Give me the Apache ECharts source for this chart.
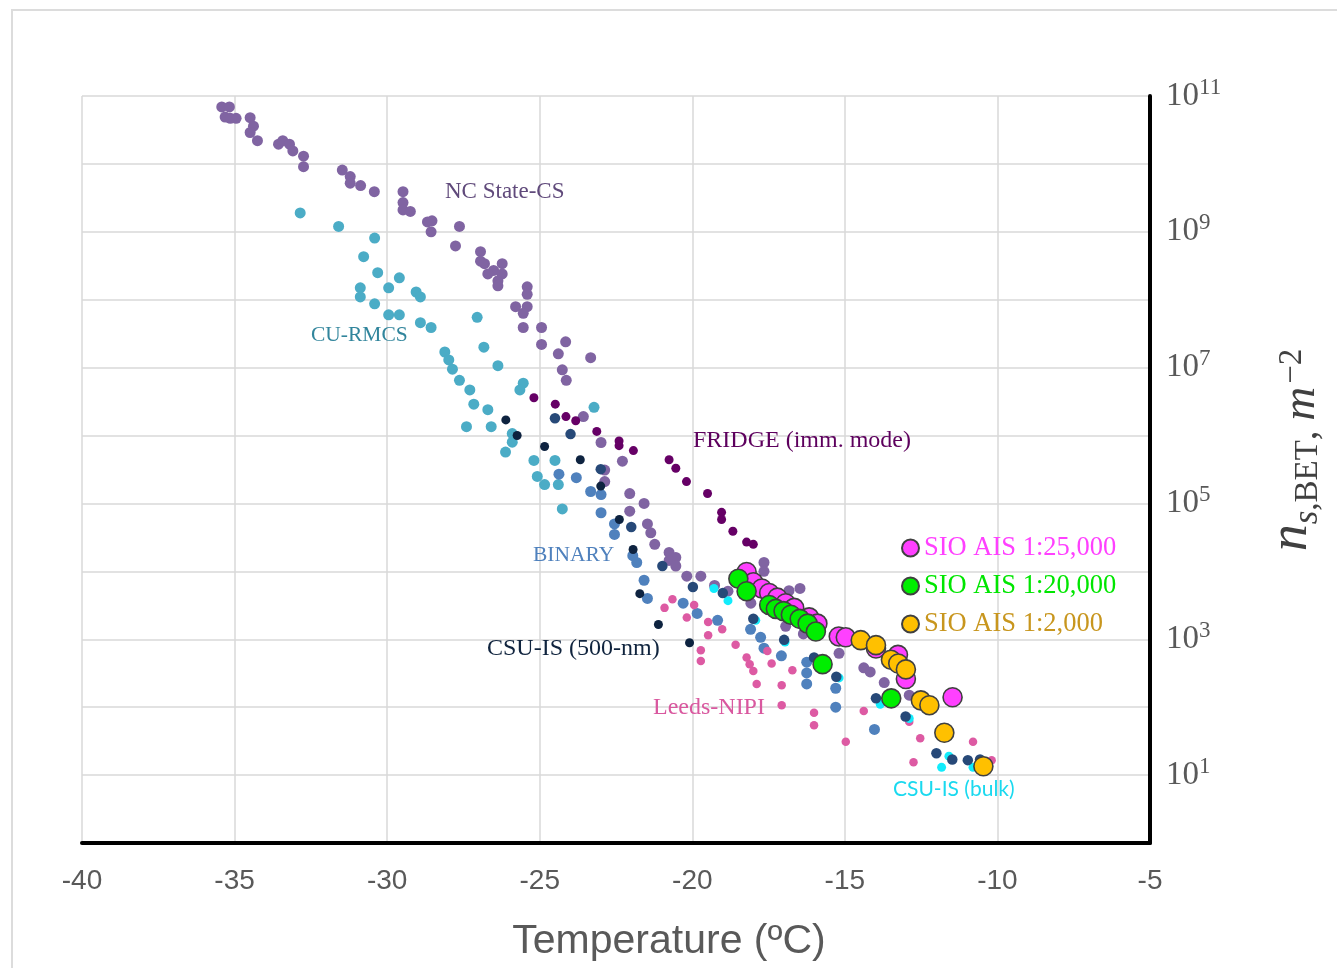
<!DOCTYPE html>
<html>
<head>
<meta charset="utf-8">
<script src="https://cdn.jsdelivr.net/npm/echarts@6/dist/echarts.min.js"></script>
<style>
  html, body { margin: 0; padding: 0; background: #fff; }
  #chart { width: 1337px; height: 968px; }
</style>
</head>
<body>
<div id="chart"></div>
<script>
// 数据：[温度 °C, ns,BET m^-2]
var ncStateCS = [
  [-35.42, 6.9e10], [-35.17, 6.9e10], [-35.31, 4.9e10], [-35.14, 4.7e10], [-34.95, 4.7e10], [-34.49, 4.8e10],
  [-34.38, 3.6e10], [-34.49, 2.9e10], [-34.25, 2.2e10], [-33.56, 1.95e10], [-33.42, 2.2e10], [-33.20, 1.95e10],
  [-33.09, 1.55e10], [-32.74, 1.3e10], [-32.74, 9.1e9], [-31.47, 8.1e9], [-31.21, 6.5e9], [-31.21, 5.2e9],
  [-30.87, 4.8e9], [-30.42, 3.9e9], [-29.48, 3.9e9], [-29.48, 2.7e9], [-29.48, 2.1e9], [-29.24, 2.0e9],
  [-28.68, 1.4e9], [-28.53, 1.45e9], [-28.56, 1.0e9], [-27.63, 1.2e9], [-27.76, 6.2e8], [-26.94, 5.1e8],
  [-26.94, 3.7e8], [-26.81, 3.4e8], [-26.23, 3.4e8], [-26.51, 2.7e8], [-26.70, 2.4e8], [-26.23, 2.4e8],
  [-26.37, 1.9e8], [-26.37, 1.6e8], [-25.41, 1.55e8], [-25.41, 1.2e8], [-25.79, 7.9e7], [-25.41, 7.9e7],
  [-25.54, 6.3e7], [-25.54, 3.9e7], [-24.94, 3.9e7], [-24.94, 2.2e7], [-24.39, 1.6e7], [-24.15, 2.4e7],
  [-24.26, 9.3e6], [-24.13, 6.5e6], [-23.33, 1.4e7], [-23.57, 1.9e6], [-22.99, 7.9e5], [-22.29, 4.2e5],
  [-22.87, 3.1e5], [-22.87, 2.1e5], [-22.05, 1.4e5], [-21.58, 1.0e5], [-22.05, 7.7e4], [-21.47, 5.0e4],
  [-21.36, 3.7e4], [-21.23, 2.5e4], [-20.76, 1.9e4], [-20.54, 1.6e4], [-20.76, 1.45e4], [-20.54, 1.2e4],
  [-20.18, 8.5e3], [-19.72, 8.5e3], [-19.27, 6.2e3], [-18.83, 5.1e3], [-18.08, 3.4e3], [-17.65, 1.35e4],
  [-17.65, 1.0e4], [-16.83, 5.2e3], [-16.47, 5.6e3], [-16.94, 1.55e3], [-16.36, 1.2e3], [-15.19, 6.2e2],
  [-14.38, 3.8e2], [-14.17, 3.3e2], [-13.71, 2.3e2], [-12.89, 1.5e2]
];
var cuRMCS = [
  [-32.85, 1.9e9], [-31.59, 1.2e9], [-30.41, 8.1e8], [-30.77, 4.3e8], [-30.31, 2.5e8], [-30.88, 1.5e8],
  [-30.88, 1.1e8], [-30.41, 8.7e7], [-29.95, 1.5e8], [-29.60, 2.1e8], [-29.05, 1.3e8], [-28.91, 1.1e8],
  [-29.95, 6.0e7], [-29.60, 6.0e7], [-28.91, 4.6e7], [-28.56, 3.9e7], [-27.05, 5.5e7], [-26.83, 2.0e7],
  [-26.37, 1.07e7], [-28.11, 1.7e7], [-27.98, 1.3e7], [-27.86, 9.5e6], [-27.63, 6.5e6], [-27.29, 4.7e6],
  [-27.16, 2.9e6], [-26.70, 2.4e6], [-27.40, 1.35e6], [-26.59, 1.35e6], [-25.54, 5.9e6], [-25.65, 4.7e6],
  [-23.22, 2.6e6], [-25.90, 1.07e6], [-25.90, 8.0e5], [-26.12, 5.7e5], [-25.19, 4.3e5], [-24.50, 4.3e5],
  [-25.08, 2.5e5], [-24.84, 1.9e5], [-24.39, 1.9e5], [-24.26, 8.3e4]
];
var binary = [
  [-24.37, 2.7e5], [-23.80, 2.4e5], [-23.33, 1.5e5], [-22.99, 1.35e5], [-22.99, 7.3e4], [-22.55, 5.0e4],
  [-22.55, 3.5e4], [-21.95, 1.7e4], [-21.82, 1.35e4], [-21.58, 7.4e3], [-21.47, 4.0e3], [-20.30, 3.4e3],
  [-19.84, 2.4e3], [-19.17, 1.9e3], [-18.09, 1.4e3], [-17.76, 1.07e3], [-17.65, 7.4e2], [-17.08, 5.7e2],
  [-16.25, 4.6e2], [-16.25, 3.2e2], [-16.25, 2.2e2], [-15.30, 1.9e2], [-15.30, 1.0e2], [-14.03, 4.7e1]
];
var fridge = [
  [-25.19, 3.6e6], [-24.49, 2.9e6], [-24.14, 1.9e6], [-23.82, 1.65e6], [-23.13, 1.15e6], [-22.40, 8.3e5],
  [-22.40, 7.1e5], [-21.93, 6.0e5], [-20.76, 4.4e5], [-20.54, 3.3e5], [-20.19, 2.1e5], [-19.50, 1.4e5],
  [-19.04, 7.4e4], [-19.04, 5.8e4], [-18.67, 3.9e4], [-18.22, 2.7e4], [-18.00, 2.5e4]
];
var csu500nm = [
  [-26.11, 1.7e6], [-25.74, 1.0e6], [-24.84, 6.9e5], [-23.67, 4.4e5], [-23.00, 1.8e5], [-22.39, 5.8e4],
  [-21.94, 2.1e4], [-21.72, 4.7e3], [-21.11, 1.65e3], [-20.09, 8.9e2]
];
var csuNavy = [
  [-24.50, 1.8e6], [-23.99, 1.05e6], [-23.00, 3.2e5], [-22.00, 4.5e4], [-20.98, 1.2e4], [-19.98, 5.9e3],
  [-19.00, 4.8e3], [-18.00, 2.0e3], [-16.99, 9.8e2], [-16.01, 5.4e2], [-15.28, 2.8e2], [-13.98, 1.35e2],
  [-13.01, 7.3e1], [-12.00, 2.1e1], [-11.48, 1.7e1], [-10.97, 1.66e1], [-10.57, 1.7e1]
];
var csuBulk = [
  [-19.29, 5.6e3], [-18.83, 3.7e3], [-17.92, 1.9e3], [-16.96, 9.1e2], [-15.19, 2.7e2], [-13.84, 1.1e2],
  [-12.89, 6.8e1], [-11.59, 1.9e1], [-11.83, 1.3e1], [-10.80, 1.3e1]
];
var leedsNIPI = [
  [-20.65, 3.9e3], [-20.91, 2.9e3], [-20.18, 2.1e3], [-19.94, 3.2e3], [-19.48, 1.8e3], [-19.02, 1.4e3],
  [-19.48, 1.15e3], [-19.72, 6.9e2], [-19.72, 4.8e2], [-18.58, 8.3e2], [-18.22, 5.4e2], [-18.12, 4.3e2],
  [-18.00, 3.4e2], [-17.89, 2.2e2], [-17.54, 6.7e2], [-17.40, 4.4e2], [-16.72, 3.5e2], [-17.07, 2.1e2],
  [-17.07, 1.07e2], [-16.01, 8.3e1], [-16.01, 5.4e1], [-14.97, 3.1e1], [-14.38, 8.8e1], [-12.89, 6.1e1],
  [-12.53, 3.5e1], [-12.75, 1.55e1], [-10.80, 3.1e1], [-10.19, 1.65e1]
];
var sio25k = [
  [-18.22, 9.8e3], [-18.00, 6.9e3], [-17.72, 5.6e3], [-17.48, 4.8e3], [-17.21, 4.1e3], [-16.94, 3.4e3],
  [-16.66, 2.9e3], [-16.17, 2.1e3], [-15.90, 1.7e3], [-15.20, 1.1e3], [-14.97, 1.07e3], [-13.98, 7.3e2],
  [-13.26, 5.9e2], [-13.00, 2.6e2], [-11.47, 1.4e2]
];
var sio20k = [
  [-18.49, 7.8e3], [-18.22, 5.1e3], [-17.48, 3.2e3], [-17.26, 2.8e3], [-17.01, 2.6e3], [-16.77, 2.3e3],
  [-16.48, 2.0e3], [-16.22, 1.7e3], [-15.95, 1.3e3], [-15.73, 4.3e2], [-13.48, 1.35e2]
];
var sio2k = [
  [-14.48, 9.7e2], [-13.98, 8.2e2], [-13.49, 5.0e2], [-13.25, 4.4e2], [-13.00, 3.6e2], [-12.51, 1.26e2],
  [-12.23, 1.07e2], [-11.74, 4.2e1], [-10.46, 1.35e1]
];
var xTicks = [-40, -35, -30, -25, -20, -15, -10, -5];
var legendNames = ['SIO AIS 1:25,000', 'SIO AIS 1:20,000', 'SIO AIS 1:2,000'];

(function() {
	var serif = '"Liberation Serif", "DejaVu Serif", serif';
	var sans = '"Liberation Sans", Arial, sans-serif';

	//散点系列
	function dots(name, data, color, size, border) {
		return {
			name: name,
			type: 'scatter',
			data: data,
			symbol: 'circle',
			symbolSize: size,
			itemStyle: border ? {
				color: color,
				opacity: 1,
				borderColor: '#404040',
				borderWidth: 1.6
			} : {
				color: color,
				opacity: 1
			},
			emphasis: { disabled: true },
			silent: true
		};
	}

	//图中的系列名文字
	function tag(text, x, y, color, size, font) {
		return {
			type: 'text',
			left: x,
			top: y - size * 0.48,
			z: 50,
			style: {
				text: text,
				fill: color,
				font: size + 'px ' + (font || serif)
			}
		};
	}

	var ink = '#404040';
	var option = {
		backgroundColor: '#fff',
		animation: false,
		grid: { left: 82, right: 187, top: 96, bottom: 125 },
		xAxis: {
			type: 'value',
			min: xTicks[0],
			max: xTicks[xTicks.length - 1],
			interval: 5,
			name: 'Temperature (ºC)',
			nameLocation: 'middle',
			nameGap: 78,
			nameTextStyle: { color: '#595959', fontSize: 41, fontFamily: sans, padding: [0, 0, 0, 106] },
			axisLine: { show: true, onZero: false, lineStyle: { color: '#000', width: 4 } },
			axisTick: { show: false },
			axisLabel: { margin: 24, color: '#595959', fontSize: 28, fontFamily: sans },
			splitLine: { show: true, lineStyle: { color: '#d9d9d9', width: 1.5 } }
		},
		yAxis: {
			type: 'log',
			logBase: 10,
			position: 'right',
			min: 1,
			max: 1e11,
			interval: 1,
			splitNumber: 11,
			axisLine: { show: true, lineStyle: { color: '#000', width: 4 } },
			axisTick: { show: false },
			axisLabel: {
				margin: 16,
				formatter: function(v) {
					var e = Math.round(Math.log10(v));
					return e % 2 === 1 ? '{b|10}{s|' + e + '}' : '';
				},
				rich: {
					b: { fontSize: 33, lineHeight: 40, fontFamily: serif, color: '#595959' },
					s: { fontSize: 23, lineHeight: 24, verticalAlign: 'top', fontFamily: serif, color: '#595959' }
				}
			},
			splitLine: { show: true, lineStyle: { color: '#d9d9d9', width: 1.5 } }
		},
		legend: {
			orient: 'vertical',
			left: 896,
			top: 528,
			itemWidth: 17,
			itemHeight: 17,
			itemGap: 8,
			icon: 'circle',
			selectedMode: false,
			textStyle: { fontSize: 26.5, lineHeight: 30, fontFamily: serif },
			data: [
				{ name: legendNames[0], textStyle: { color: '#ff40ff' } },
				{ name: legendNames[1], textStyle: { color: '#00e600' } },
				{ name: legendNames[2], textStyle: { color: '#c8961e' } }
			]
		},
		series: [
			dots('CU-RMCS', cuRMCS, '#4bacc6', 11),
			dots('NC State-CS', ncStateCS, '#8064a2', 11),
			dots('FRIDGE (imm. mode)', fridge, '#660066', 9),
			dots('BINARY', binary, '#4f81bd', 11),
			dots('Leeds-NIPI', leedsNIPI, '#dd5aa3', 8.5),
			dots('CSU-IS (bulk)', csuBulk, '#12ecfc', 9),
			dots('CSU-IS', csuNavy, '#274978', 10.5),
			dots('CSU-IS (500-nm)', csu500nm, '#0e2340', 9),
			dots(legendNames[0], sio25k, '#ff40ff', 19, true),
			dots(legendNames[1], sio20k, '#00ee00', 19, true),
			dots(legendNames[2], sio2k, '#ffc000', 19, true)
		],
		graphic: [
			{
				type: 'rect',
				z: -10,
				shape: { x: 12, y: 10, width: 1400, height: 1000 },
				style: { fill: 'none', stroke: '#dcdcdc', lineWidth: 2 }
			},
			tag('NC State-CS', 445, 191, '#604a7b', 23),
			tag('CU-RMCS', 311, 335, '#31859c', 21.5),
			tag('FRIDGE (imm. mode)', 693, 440, '#5d005d', 24),
			tag('BINARY', 533, 555, '#4f81bd', 21.5),
			tag('CSU-IS (500-nm)', 487, 648, '#10243e', 24),
			tag('Leeds-NIPI', 653, 707, '#d9589f', 24),
			tag('CSU-IS (bulk)', 893, 789, '#1ad9ef', 21, 'Lato, "Open Sans", sans-serif'),
			//纵轴标题 n_{s,BET}, m^{-2}
			{
				type: 'text',
				x: 1292,
				y: 450,
				rotation: Math.PI / 2,
				z: 50,
				style: {
					text: '{n|n}{s|s}{sub|,BET}{c|, }{m|m}{sup|−2}',
					align: 'center',
					verticalAlign: 'middle',
					fill: ink,
					rich: {
						n: { fontSize: 54, lineHeight: 66, fontStyle: 'italic', fontFamily: serif, fill: ink },
						s: { fontSize: 35, lineHeight: 26, verticalAlign: 'bottom', fontStyle: 'italic', fontFamily: serif, fill: ink },
						sub: { fontSize: 33, lineHeight: 26, verticalAlign: 'bottom', fontFamily: serif, fill: ink },
						c: { fontSize: 39, lineHeight: 28, verticalAlign: 'bottom', fontFamily: serif, fill: ink },
						m: { fontSize: 47, lineHeight: 32, verticalAlign: 'bottom', fontStyle: 'italic', fontFamily: serif, fill: ink },
						sup: { fontSize: 33, lineHeight: 32, fontFamily: serif, fill: ink, padding: [0, 0, 0, 3] }
					}
				}
			}
		]
	};

	var myChart = echarts.init(document.getElementById('chart'));
	myChart.setOption(option);
})();
</script>
</body>
</html>
